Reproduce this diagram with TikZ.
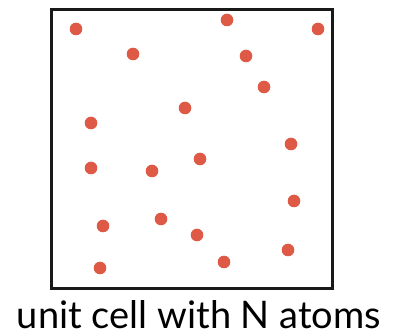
\documentclass[tikz,border=0pt]{standalone}
\usepackage{fontspec}
\setmainfont{Lato}
\definecolor{atomred}{RGB}{222,90,70}
\begin{document}
\begin{tikzpicture}[x=1pt,y=-1pt,
  atom/.style={circle,fill=atomred,draw=none,minimum size=12.6pt,inner sep=0pt},
  cell/.style={draw=black!90,line width=3pt,minimum width=281pt,minimum height=279pt,inner sep=0pt},
  caption/.style={font=\fontsize{38}{44}\selectfont,inner sep=0pt,anchor=base}]
\useasboundingbox (0,0) rectangle (394,336);
\node[cell] (box) at (191.5,149.5) {};
\foreach \i/\x/\y in {1/76/29,2/227/20,3/318/29,4/133/54,5/246/56,6/264/87,7/185/108,8/91/123,9/291/144,10/200/159,11/91/168,12/152/171,13/294/201,14/161/219,15/103/226,16/197/235,17/288/250,18/224/262,19/100/268}
  \node[atom] (a\i) at (\x,\y) {};
\node[caption] (cap) at (199,329) {unit cell with N atoms};
\end{tikzpicture}
\end{document}
